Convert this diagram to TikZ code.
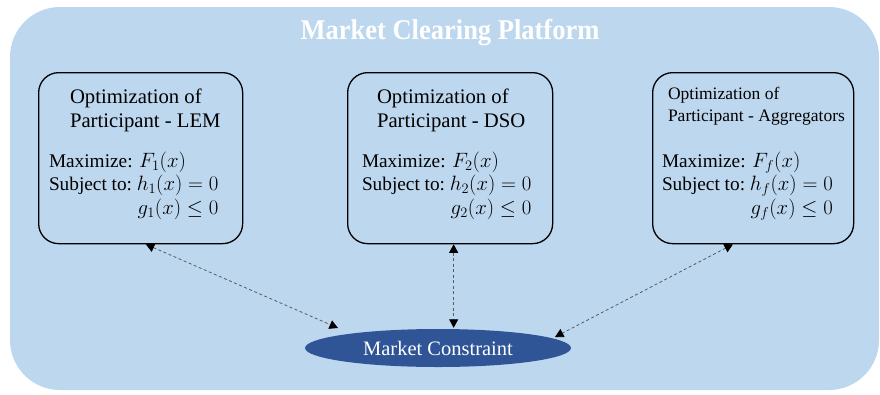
\documentclass[tikz,border=0pt]{standalone}
\usepackage{fontspec}
\usepackage{graphicx}
\setmainfont{Liberation Serif}
\usetikzlibrary{shapes.geometric,arrows.meta,calc}
\definecolor{platblue}{RGB}{189,215,238}
\definecolor{ellblue}{RGB}{47,85,151}
\definecolor{linkgray}{RGB}{90,90,90}
\newcommand{\headfont}{\fontsize{20.7}{24}\selectfont}
\newcommand{\headfontsmall}{\fontsize{17.5}{22}\selectfont}
\newcommand{\bodyfont}{\fontsize{19.3}{23.8}\selectfont}
\newcommand{\mth}[1]{{\fontsize{21.5}{23.8}\selectfont$#1$}}
\begin{document}
\begin{tikzpicture}[x=1pt,y=-1pt,
  platform/.style={fill=platblue, rounded corners=50pt},
  partbox/.style={draw=black, line width=1.3pt, rounded corners=20pt, minimum height=171pt, inner sep=0pt, anchor=north west},
  txt/.style={anchor=base west, inner sep=0pt, outer sep=0pt},
  link/.style={draw=linkgray, line width=0.8pt, dash pattern=on 3pt off 2.5pt,
    {Triangle[width=9pt,length=8.5pt,color=black]}-{Triangle[width=9pt,length=8.5pt,color=black]}},
  mcnode/.style={ellipse, fill=ellblue, minimum width=266pt, minimum height=38pt, inner sep=0pt, text=white}
]
\useasboundingbox (0,0) rectangle (880,394);
\fill[platform] (10,7) rectangle (879,390);
\node[anchor=base, inner sep=0pt, text=white] (title) at (450,39)
  {\scalebox{1}[1.08]{\fontsize{26.5}{30}\selectfont\bfseries Market Clearing Platform}};

% participant boxes
\node[partbox, minimum width=204pt] (b1) at (38,72) {};
\node[partbox, minimum width=205pt] (b2) at (347,72) {};
\node[partbox, minimum width=201pt] (b3) at (652,72) {};

% headers
\node[txt] (h1) at (70,103) {\headfont\begin{tabular}[t]{@{}l@{}}Optimization of\\Participant - LEM\end{tabular}};
\node[txt] (h2) at (377,103) {\headfont\begin{tabular}[t]{@{}l@{}}Optimization of\\Participant - DSO\end{tabular}};
\node[txt] (h3) at (668,99) {\headfontsmall\begin{tabular}[t]{@{}l@{}}Optimization of\\Participant - Aggregators\end{tabular}};

% bodies
\node[txt] (m1) at (49,167) {\bodyfont\begin{tabular}[t]{@{}l@{}r@{}}\multicolumn{2}{@{}l@{}}{Maximize: \mth{F_1(x)}}\\ Subject to:~ & \mth{h_1(x)=0}\\ & \mth{g_1(x)\le 0}\end{tabular}};
\node[txt] (m2) at (362,167) {\bodyfont\begin{tabular}[t]{@{}l@{}r@{}}\multicolumn{2}{@{}l@{}}{Maximize: \mth{F_2(x)}}\\ Subject to:~ & \mth{h_2(x)=0}\\ & \mth{g_2(x)\le 0}\end{tabular}};
\node[txt] (m3) at (662,167) {\bodyfont\begin{tabular}[t]{@{}l@{}r@{}}\multicolumn{2}{@{}l@{}}{Maximize: \mth{F_f(x)}}\\ Subject to:~ & \mth{h_f(x)=0}\\ & \mth{g_f(x)\le 0}\end{tabular}};

% market constraint
\node[mcnode] (mc) at (438,348) {\fontsize{20.5}{24}\selectfont Market Constraint};

% connector end points
\coordinate (c1a) at ($(b1.south west)!0.525!(b1.south east)$);
\coordinate (c1b) at ($(mc.center)+(-100,-20)$);
\coordinate (c2a) at ($(b2.south west)!0.517!(b2.south east)$);
\coordinate (c2b) at ($(c2a |- mc.north)+(0,-1)$);
\coordinate (c3a) at ($(b3.south west)!0.40!(b3.south east)$);
\coordinate (c3b) at ($(mc.center)+(117,-11)$);

\draw[link] (c1a) -- (c1b);
\draw[link] (c2a) -- (c2b);
\draw[link] (c3a) -- (c3b);
\end{tikzpicture}
\end{document}
